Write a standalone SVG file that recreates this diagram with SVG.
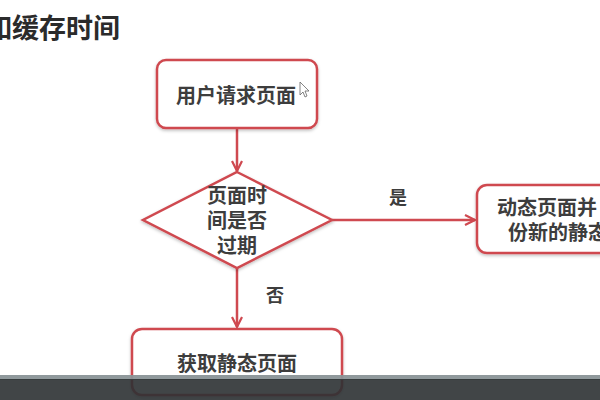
<svg xmlns="http://www.w3.org/2000/svg" width="600" height="400" viewBox="0 0 600 400">
<defs>
<style>
.box{fill:#fff;stroke:#cf4950;stroke-width:2.5}
.t{font-family:"Noto Sans CJK SC","Noto Sans",sans-serif;font-weight:bold;fill:#3d3d3d;font-size:20px}
.ln{stroke:#cf4950;stroke-width:2.5;fill:none}
</style>
<filter id="sh" x="-10%" y="-10%" width="120%" height="130%">
<feDropShadow dx="0" dy="1.5" stdDeviation="1.5" flood-color="#000" flood-opacity="0.25"/>
</filter>
<marker id="ar" viewBox="0 0 12 12" refX="11" refY="6" markerWidth="12" markerHeight="12" markerUnits="userSpaceOnUse" orient="auto">
<path d="M1,1 L11,6 L1,11" fill="none" stroke="#cf4950" stroke-width="2.2"/>
</marker>
</defs>
<rect width="600" height="400" fill="#fff"/>
<text x="-15" y="38" class="t" style="font-size:27px;fill:#2b2b2b">如缓存时间</text>
<g id="connectors">
<line class="ln" x1="237" y1="128" x2="237" y2="171" marker-end="url(#ar)"/>
<line class="ln" x1="332" y1="220" x2="475" y2="220" marker-end="url(#ar)"/>
<text x="398" y="204" class="t" style="font-size:18px" text-anchor="middle">是</text>
<line class="ln" x1="237" y1="268" x2="237" y2="327" marker-end="url(#ar)"/>
<text x="275" y="302" class="t" style="font-size:18px" text-anchor="middle">否</text>
</g>
<g id="n1">
<rect class="box" filter="url(#sh)" x="157" y="60" width="160" height="68" rx="9"/>
<text class="t" x="236" y="103" text-anchor="middle">用户请求页面</text>
</g>
<g id="cursor">
<path d="M300,82 L300,95 L303,92 L305,97 L307,96 L305,91 L309,91 Z" fill="#fff" stroke="#666" stroke-width="0.8"/>
</g>
<g id="n2">
<polygon class="box" filter="url(#sh)" points="237,172 332,220 237,268 143,220"/>
<text class="t" x="237" y="203" text-anchor="middle">页面时</text>
<text class="t" x="237" y="228" text-anchor="middle">间是否</text>
<text class="t" x="237" y="253" text-anchor="middle">过期</text>
</g>
<g id="n3">
<rect class="box" filter="url(#sh)" x="477" y="185" width="160" height="68" rx="10"/>
<text class="t" x="497" y="215">动态页面并</text>
<text class="t" x="508" y="240">份新的静态</text>
</g>
<g id="n4">
<rect class="box" filter="url(#sh)" x="132" y="329" width="210" height="66" rx="10"/>
<text class="t" x="237" y="371" text-anchor="middle">获取静态页面</text>
</g>
<rect x="0" y="375" width="600" height="5" fill="#8a9497" opacity="0.95"/>
<rect x="0" y="379" width="600" height="21" fill="#2c3133" opacity="0.9"/>
</svg>
